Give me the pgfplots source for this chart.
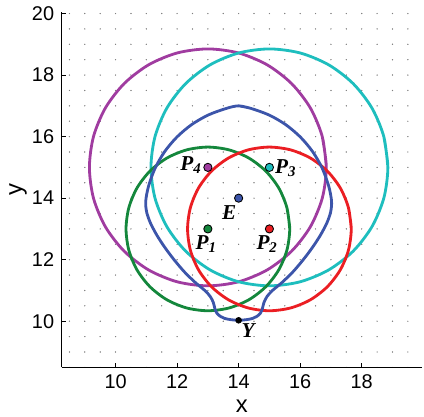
\documentclass[border=0pt]{standalone}
\usepackage{pgfplots}
\pgfplotsset{compat=1.18}
\usepackage{fontspec}
\setmainfont{Liberation Sans}
\newfontfamily\lserif{Liberation Serif}
\definecolor{pgreen}{RGB}{20,135,60}
\definecolor{pred}{RGB}{235,30,35}
\definecolor{ppurple}{RGB}{160,60,160}
\definecolor{pcyan}{RGB}{30,190,190}
\definecolor{pblue}{RGB}{60,85,170}
\newcommand{\lab}[2]{{\fontsize{9.8}{10}\lserif\bfseries\itshape #1\textsubscript{#2}}}
\begin{document}
\begin{tikzpicture}
\begin{axis}[
  x=0.5cm, y=0.5cm,
  xmin=8.25, xmax=19.95, ymin=8.5, ymax=20.05,
  axis lines=left,
  axis line style={-, black, line width=0.6pt},
  xtick={10,12,...,18}, ytick={10,12,...,20},
  minor xtick={8.5,9,...,19.5}, minor ytick={9,9.5,...,20},
  tick align=inside, major tick length=2pt, minor tick length=0pt,
  tick style={black, line width=0.5pt},
  xmajorgrids=false, ymajorgrids=false, xminorgrids=true, yminorgrids=true,
  minor grid style={draw=black!50, line width=0.55pt, line cap=round, dash pattern=on 0pt off 0.25cm},
  every axis y grid/.append style={dash phase=0.125cm},
  ticklabel style={font=\fontsize{9.2}{10}\selectfont},
  /pgf/number format/assume math mode=true,
  xlabel={x}, ylabel={y},
  label style={font=\fontsize{11}{12}\selectfont, inner sep=0pt},
  xlabel style={at={(axis description cs:0.5,-0.108)}, anchor=center},
  ylabel style={at={(axis description cs:-0.121,0.5)}, anchor=center},
  clip=false,
]
\coordinate (ll) at (rel axis cs:0,0);
\coordinate (ur) at (rel axis cs:1,1);
% magenta circle, centre (13,15), r=3.85
\addplot[ppurple, line width=1.3pt, smooth] coordinates {
(16.85,15) (16.719,15.996) (16.334,16.925) (15.722,17.722) (14.925,18.334) (13.996,18.719)
(13,18.85) (12.004,18.719) (11.075,18.334) (10.278,17.722) (9.666,16.925) (9.281,15.996)
(9.15,15) (9.281,14.004) (9.666,13.075) (10.278,12.278) (11.075,11.666) (12.004,11.281)
(13,11.15) (13.996,11.281) (14.925,11.666) (15.722,12.278) (16.334,13.075) (16.719,14.004)
(16.85,15) (16.719,15.996)};
% cyan circle, centre (15,15), r=3.85
\addplot[pcyan, line width=1.3pt, smooth] coordinates {
(18.85,15) (18.719,15.996) (18.334,16.925) (17.722,17.722) (16.925,18.334) (15.996,18.719)
(15,18.85) (14.004,18.719) (13.075,18.334) (12.278,17.722) (11.666,16.925) (11.281,15.996)
(11.15,15) (11.281,14.004) (11.666,13.075) (12.278,12.278) (13.075,11.666) (14.004,11.281)
(15,11.15) (15.996,11.281) (16.925,11.666) (17.722,12.278) (18.334,13.075) (18.719,14.004)
(18.85,15) (18.719,15.996)};
% green circle, centre (13,13), r=2.66
\addplot[pgreen, line width=1.3pt, smooth] coordinates {
(15.66,13) (15.569,13.688) (15.304,14.33) (14.881,14.881) (14.33,15.304) (13.688,15.569)
(13,15.66) (12.312,15.569) (11.67,15.304) (11.119,14.881) (10.696,14.33) (10.431,13.688)
(10.34,13) (10.431,12.312) (10.696,11.67) (11.119,11.119) (11.67,10.696) (12.312,10.431)
(13,10.34) (13.688,10.431) (14.33,10.696) (14.881,11.119) (15.304,11.67) (15.569,12.312)
(15.66,13) (15.569,13.688)};
% red circle, centre (15,13), r=2.66
\addplot[pred, line width=1.3pt, smooth] coordinates {
(17.66,13) (17.569,13.688) (17.304,14.33) (16.881,14.881) (16.33,15.304) (15.688,15.569)
(15,15.66) (14.312,15.569) (13.67,15.304) (13.119,14.881) (12.696,14.33) (12.431,13.688)
(12.34,13) (12.431,12.312) (12.696,11.67) (13.119,11.119) (13.67,10.696) (14.312,10.431)
(15,10.34) (15.688,10.431) (16.33,10.696) (16.881,11.119) (17.304,11.67) (17.569,12.312)
(17.66,13) (17.569,13.688)};
% blue curve
\addplot[pblue, line width=1.3pt, smooth] coordinates {
(14,17.0) (14.398,16.917) (14.984,16.704) (15.525,16.392) (16.002,15.990) (16.404,15.513)
(16.716,14.972) (16.929,14.385) (17.02,13.90) (16.99,13.55) (16.87,13.20) (16.66,12.80)
(16.40,12.40) (16.10,12.00) (15.76,11.60) (15.40,11.25) (15.10,11.00) (14.92,10.80)
(14.82,10.60) (14.77,10.40) (14.70,10.25) (14.58,10.15) (14.45,10.09) (14.25,10.05)
(14,10.03)
(13.75,10.05) (13.55,10.09) (13.42,10.15) (13.30,10.25) (13.23,10.40) (13.18,10.60)
(13.08,10.80) (12.90,11.00) (12.60,11.25) (12.24,11.60) (11.90,12.00) (11.60,12.40)
(11.34,12.80) (11.13,13.20) (11.01,13.55) (10.98,13.90) (11.071,14.385) (11.284,14.972)
(11.596,15.513) (11.998,15.990) (12.475,16.392) (13.016,16.704) (13.602,16.917)
(14,17.0) (14.398,16.917)};
% points
\addplot[only marks, mark=*, mark size=1.9pt, mark options={fill=pgreen, draw=black, line width=0.4pt}] coordinates {(13,13)};
\addplot[only marks, mark=*, mark size=1.9pt, mark options={fill=pred, draw=black, line width=0.4pt}] coordinates {(15,13)};
\addplot[only marks, mark=*, mark size=1.9pt, mark options={fill=pcyan, draw=black, line width=0.4pt}] coordinates {(15,15)};
\addplot[only marks, mark=*, mark size=1.9pt, mark options={fill=ppurple, draw=black, line width=0.4pt}] coordinates {(13,15)};
\addplot[only marks, mark=*, mark size=1.9pt, mark options={fill=pblue, draw=black, line width=0.4pt}] coordinates {(14,14)};
\addplot[only marks, mark=*, mark size=1.3pt, mark options={fill=black, draw=black}] coordinates {(14,10.03)};
% labels
\node[anchor=east, inner sep=0pt] at (axis cs:12.82,15.08) {\lab{P}{4}};
\node[anchor=west, inner sep=0pt] at (axis cs:15.17,14.97) {\lab{P}{3}};
\node[anchor=north east, inner sep=0pt] at (axis cs:13.97,13.78) {\lab{E}{}};
\node[anchor=north, inner sep=0pt] at (axis cs:12.95,12.8) {\lab{P}{1}};
\node[anchor=north, inner sep=0pt] at (axis cs:14.93,12.8) {\lab{P}{2}};
\node[anchor=north west, inner sep=0pt] at (axis cs:14.08,9.92) {\lab{Y}{}};
\end{axis}
\pgfresetboundingbox
\path[use as bounding box] ([xshift=-1.003cm,yshift=-0.797cm]ll) rectangle ([xshift=0.037cm,yshift=0.195cm]ur);
\end{tikzpicture}
\end{document}
